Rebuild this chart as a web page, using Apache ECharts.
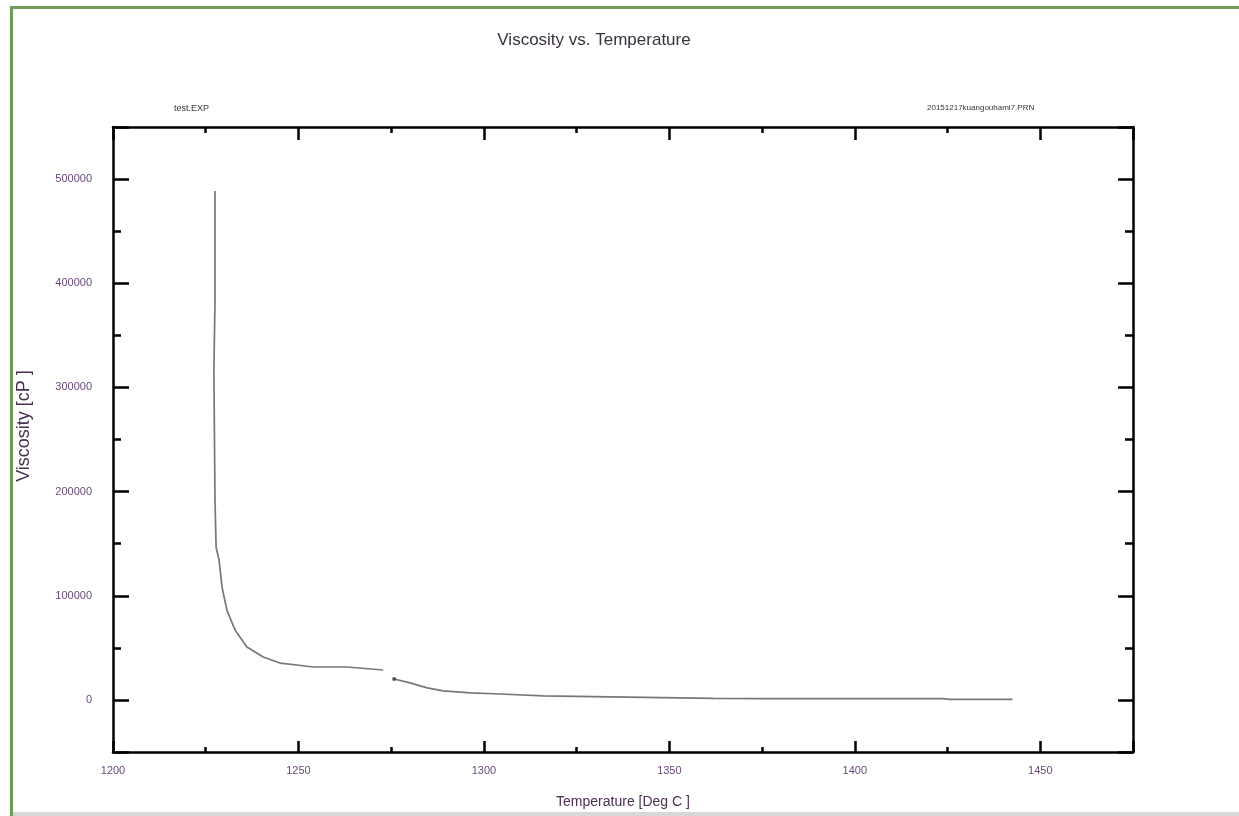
<!DOCTYPE html>
<html>
<head>
<meta charset="utf-8">
<title>Viscosity vs. Temperature</title>
<script src="https://cdn.jsdelivr.net/npm/echarts@6/dist/echarts.min.js"></script>
<style>
  html, body { margin: 0; padding: 0; background: #fff; }
  #main { width: 1239px; height: 816px; }
</style>
</head>
<body>
<div id="main"></div>
<script>
// temperature [deg C] and viscosity [cP]
// first run (cooling side, ends before the gap)
const temp1 = [1227.5, 1227.5, 1227.2, 1227.5, 1227.8, 1228.6, 1229.4, 1230.7, 1232.9, 1236.1, 1240.5, 1245.0, 1249.6, 1253.9, 1263.1, 1272.8];
const visc1 = [488500, 383200, 316100, 191600, 146600, 134100, 108200, 86200, 67100, 50800, 41200, 35400, 33500, 31600, 31600, 28700];
// second run after the gap
const temp2 = [1275.8, 1280.1, 1284.7, 1289.0, 1296.3, 1304.4, 1316.0, 1334.0, 1361.8, 1374.5, 1423.8, 1425.7, 1442.5];
const visc2 = [20100, 16300, 11500, 8600, 6700, 5700, 3800, 2900, 1500, 1300, 1200, 600, 500];

const xTicks = [1200, 1250, 1300, 1350, 1400, 1450];
const yTicks = [0, 100000, 200000, 300000, 400000, 500000];

const chart = echarts.init(document.getElementById('main'));

function pairs(xs, ys) {
  return xs.map((x, i) => [x, ys[i]]);
}

const lineData = pairs(temp1, visc1).concat([[null, null]], pairs(temp2, visc2));

const FONT = '"Liberation Sans", Arial, sans-serif';
const labelColor = '#6a4a78';

function axisBase(pos, showLabel) {
  return {
    type: 'value',
    position: pos,
    axisLine: { show: true, onZero: false, lineStyle: { color: '#000', width: 2.5 } },
    axisTick: { show: true, inside: true, length: 13, lineStyle: { color: '#000', width: 2.5 } },
    minorTick: { show: true, splitNumber: 2, length: 6, lineStyle: { color: '#000', width: 2.5 } },
    splitLine: { show: false },
    axisLabel: { show: showLabel, color: labelColor, fontSize: 11, fontFamily: FONT }
  };
}

const xBottom = Object.assign(axisBase('bottom', true), {
  min: 1200, max: 1475, interval: 50,
  name: 'Temperature [Deg C ]', nameLocation: 'middle', nameGap: 43,
  nameTextStyle: { color: '#4a3050', fontSize: 14, fontFamily: FONT }
});
xBottom.axisLabel.margin = 13;
xBottom.axisLabel.formatter = v => xTicks.includes(v) ? String(v) : '';
xBottom.axisTick.length = 11;
xBottom.minorTick.length = 5;

const xTop = Object.assign(axisBase('top', false), { min: 1200, max: 1475, interval: 50 });

const yLeft = Object.assign(axisBase('left', true), {
  min: -50000, max: 550000, splitNumber: 5,
  name: 'Viscosity [cP ]', nameLocation: 'middle', nameGap: 80,
  nameTextStyle: { color: '#4a3050', fontSize: 18, fontFamily: FONT, padding: [0, 0, 0, 27] }
});
yLeft.axisLabel.margin = 21;
yLeft.axisLabel.formatter = v => yTicks.includes(v) ? String(v) : '';
yLeft.axisTick.length = 16;
yLeft.minorTick.length = 8;

const yRight = Object.assign(axisBase('right', false), { min: -50000, max: 550000, splitNumber: 5 });
yRight.axisTick.length = 15;
yRight.minorTick.length = 8;

chart.setOption({
  animation: false,
  backgroundColor: '#fff',
  title: [
    { text: 'Viscosity vs. Temperature', left: 589, top: 27, textAlign: 'center',
      textStyle: { fontSize: 17, fontWeight: 'normal', color: '#3a3040', fontFamily: FONT } },
    { text: 'test.EXP', left: 169, top: 99,
      textStyle: { fontSize: 9, fontWeight: 'normal', color: '#333', fontFamily: FONT } },
    { text: '20151217kuangouhami7.PRN', left: 922, top: 99,
      textStyle: { fontSize: 8, fontWeight: 'normal', color: '#333', fontFamily: FONT } }
  ],
  grid: { left: 113, top: 127, right: 106, bottom: 64, containLabel: false, outerBoundsMode: 'none' },
  xAxis: [xBottom, xTop],
  yAxis: [yLeft, yRight],
  series: [
    {
      type: 'line',
      data: lineData,
      showSymbol: false,
      connectNulls: false,
      lineStyle: { color: '#777', width: 1.7 },
      z: 3
    },
    {
      type: 'scatter',
      data: [[temp2[0], visc2[0]]],
      symbolSize: 4,
      itemStyle: { color: '#333' },
      z: 4
    }
  ],
  graphic: [
    { type: 'rect', shape: { x: 10, y: 6, width: 1229, height: 3 }, style: { fill: '#6f9a58' }, silent: true },
    { type: 'rect', shape: { x: 10, y: 6, width: 3, height: 810 }, style: { fill: '#6f9a58' }, silent: true },
    { type: 'rect', shape: { x: 13, y: 812, width: 1226, height: 4 }, style: { fill: '#d8d8d8' }, silent: true }
  ]
});
</script>
</body>
</html>
